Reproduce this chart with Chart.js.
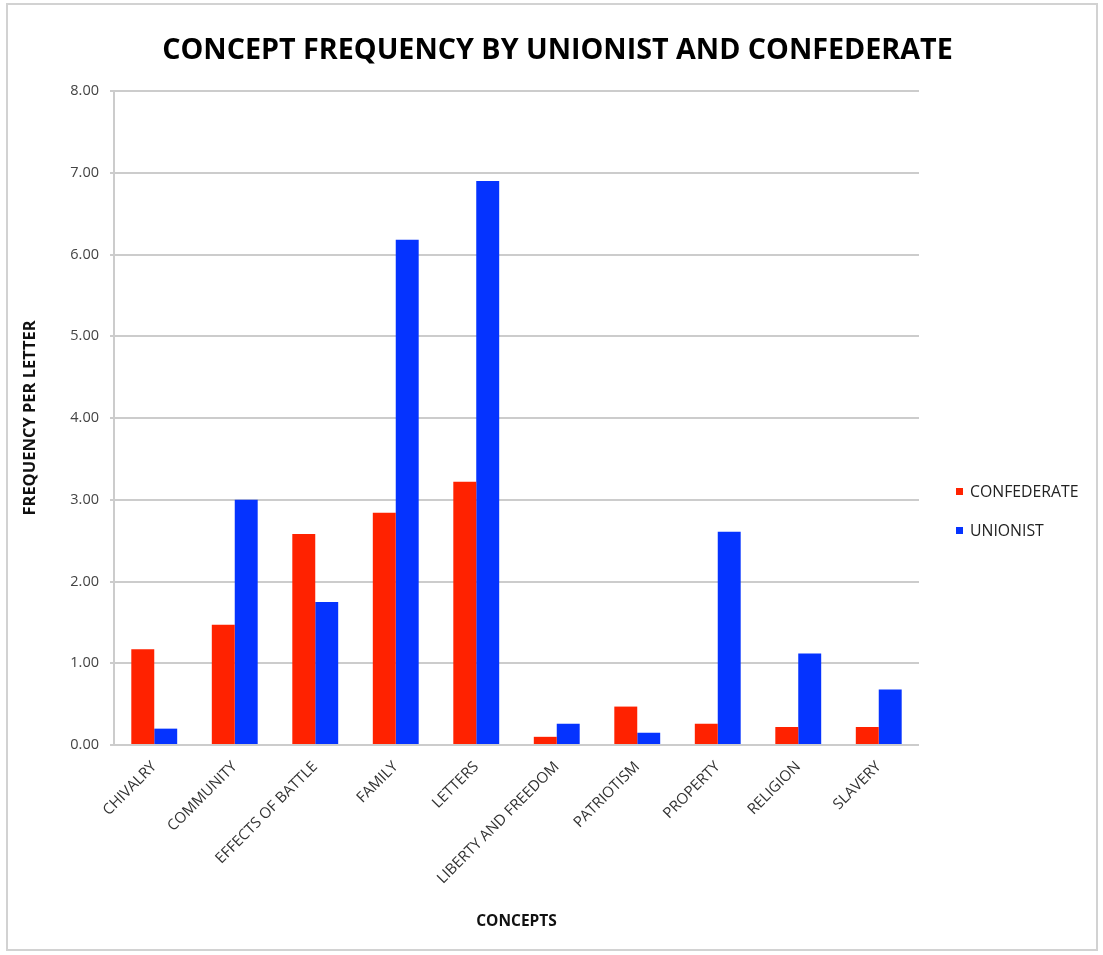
<!DOCTYPE html>
<html>
<head>
<meta charset="utf-8">
<script src="https://cdn.jsdelivr.net/npm/chart.js@4/dist/chart.umd.min.js"></script>
<style>
  html, body { margin: 0; padding: 0; background: #ffffff; }
  #wrap { position: relative; width: 1103px; height: 955px; overflow: hidden; }
  #frame { position: absolute; left: 6px; top: 3px; width: 1092px; height: 948px; border: 2px solid #d2d2d2; box-sizing: border-box; }
  #title { position: absolute; left: 6px; width: 1103px; top: 28px; text-align: center; font-family: "Open Sans", sans-serif; font-weight: bold; font-size: 28.7px; color: #000; }
  #c { position: absolute; left: 0; top: 0; }
  #legend { position: absolute; left: 956px; top: 484px; font-family: "Open Sans", sans-serif; font-size: 15.8px; color: #222; }
  .li { position: relative; height: 39px; }
  .sw { position: absolute; left: 0; top: 4px; width: 7px; height: 7px; }
  .lt { position: absolute; left: 14px; top: -4px; white-space: nowrap; }
</style>
</head>
<body>
<div id="wrap">
  <div id="frame"></div>
  <canvas id="c" width="1103" height="955"></canvas>
  <div id="title">CONCEPT FREQUENCY BY UNIONIST AND CONFEDERATE</div>
  <div id="legend"></div>
</div>
<script>
const chartTitle = "CONCEPT FREQUENCY BY UNIONIST AND CONFEDERATE";
const categories = ["CHIVALRY", "COMMUNITY", "EFFECTS OF BATTLE", "FAMILY", "LETTERS", "LIBERTY AND FREEDOM", "PATRIOTISM", "PROPERTY", "RELIGION", "SLAVERY"];
const seriesNames = ["CONFEDERATE", "UNIONIST"];
const confederate = [1.17, 1.47, 2.58, 2.84, 3.22, 0.10, 0.47, 0.26, 0.22, 0.22];
const unionist = [0.20, 3.00, 1.75, 6.18, 6.90, 0.26, 0.15, 2.61, 1.12, 0.68];
const yTicks = [0, 1, 2, 3, 4, 5, 6, 7, 8];
const xTitle = "CONCEPTS";
const yTitle = "FREQUENCY PER LETTER";

const colors = ["#ff2200", "#0533ff"];

document.getElementById('title').textContent = chartTitle;
const legendEl = document.getElementById('legend');
seriesNames.forEach((n, i) => {
  const d = document.createElement('div');
  d.className = 'li';
  d.innerHTML = '<span class="sw" style="background:' + colors[i] + '"></span><span class="lt"></span>';
  d.querySelector('.lt').textContent = n;
  legendEl.appendChild(d);
});

const CW = 1103, CH = 955;
const AREA = { left: 114, right: 919, top: 91, bottom: 745 };

new Chart(document.getElementById('c'), {
  type: 'bar',
  data: {
    labels: categories,
    datasets: [
      { label: seriesNames[0], data: confederate, backgroundColor: colors[0], borderWidth: 0 },
      { label: seriesNames[1], data: unionist, backgroundColor: colors[1], borderWidth: 0 }
    ]
  },
  options: {
    responsive: false,
    animation: false,
    devicePixelRatio: 1,
    layout: { padding: { top: AREA.top, right: CW - AREA.right, bottom: 0, left: 0 } },
    datasets: { bar: { categoryPercentage: 0.57, barPercentage: 1.0 } },
    plugins: {
      legend: { display: false },
      title: { display: false },
      tooltip: { enabled: false }
    },
    scales: {
      x: {
        grid: { display: false, drawTicks: false },
        border: { display: false },
        ticks: {
          color: '#333',
          font: { family: 'Open Sans', size: 15 },
          minRotation: 45, maxRotation: 45,
          padding: 13,
          autoSkip: false
        },
        title: {
          display: true, text: xTitle, color: '#111',
          font: { family: 'Open Sans', size: 15.5, weight: 'bold' },
          padding: { top: 0, bottom: 24 }
        },
        afterFit(scale) { scale.height = CH - AREA.bottom; }
      },
      y: {
        min: 0, max: 8,
        afterBuildTicks(scale) { scale.ticks = yTicks.map(v => ({ value: v })); },
        grid: { color: '#cccccc', lineWidth: 2, tickLength: 4, drawTicks: true },
        border: { display: true, color: '#cccccc', width: 2 },
        ticks: {
          color: '#444',
          font: { family: 'Open Sans', size: 14.5 },
          padding: 11,
          callback: v => Number(v).toFixed(2)
        },
        title: {
          display: true, text: yTitle, color: '#111',
          font: { family: 'Open Sans', size: 16.5, weight: 'bold' },
          padding: { top: 20, bottom: 0 }
        },
        afterFit(scale) { scale.width = AREA.left; }
      }
    }
  }
});
</script>
</body>
</html>
